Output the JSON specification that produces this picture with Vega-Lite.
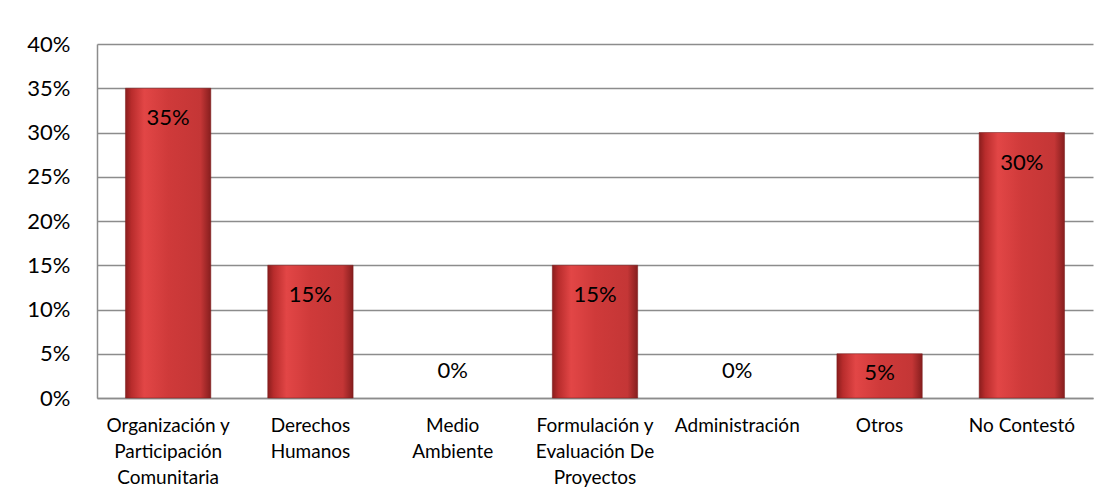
{
  "$schema": "https://vega.github.io/schema/vega-lite/v6.json",
  "width": 996,
  "height": 354,
  "autosize": {"type": "none"},
  "padding": {"left": 97, "top": 44, "right": 19, "bottom": 103},
  "background": "white",
  "config": {
    "view": {"stroke": null},
    "font": "Lato",
    "text": {"font": "Lato"}
  },
  "data": {
    "values": [
      {"categoria": "Organización y Participación Comunitaria", "valor": 0.35},
      {"categoria": "Derechos Humanos", "valor": 0.15},
      {"categoria": "Medio Ambiente", "valor": 0.0},
      {"categoria": "Formulación y Evaluación De Proyectos", "valor": 0.15},
      {"categoria": "Administración", "valor": 0.0},
      {"categoria": "Otros", "valor": 0.05},
      {"categoria": "No Contestó", "valor": 0.30}
    ]
  },
  "encoding": {
    "x": {
      "field": "categoria",
      "type": "nominal",
      "sort": null,
      "scale": {
        "domain": ["Organización y Participación Comunitaria", "Derechos Humanos", "Medio Ambiente", "Formulación y Evaluación De Proyectos", "Administración", "Otros", "No Contestó"],
        "paddingInner": 0.4,
        "paddingOuter": 0.2
      },
      "axis": {
        "title": null,
        "labelAngle": 0,
        "labelFont": "Lato",
        "labelFontSize": 19,
        "labelColor": "#000000",
        "labelLineHeight": 26,
        "labelPadding": 27,
        "labelBaseline": "middle",
        "labelLimit": 200,
        "ticks": false,
        "domainColor": "#8c8c8c",
        "domainWidth": 1.5,
        "labelExpr": "datum.value == 'Organización y Participación Comunitaria' ? ['Organización y', 'Participación', 'Comunitaria'] : datum.value == 'Derechos Humanos' ? ['Derechos', 'Humanos'] : datum.value == 'Medio Ambiente' ? ['Medio', 'Ambiente'] : datum.value == 'Formulación y Evaluación De Proyectos' ? ['Formulación y', 'Evaluación De', 'Proyectos'] : datum.value"
      }
    },
    "y": {
      "field": "valor",
      "type": "quantitative",
      "scale": {"domain": [0, 0.4], "nice": false},
      "axis": {
        "title": null,
        "format": ".0%",
        "values": [0, 0.05, 0.1, 0.15, 0.2, 0.25, 0.3, 0.35, 0.4],
        "labelFont": "Lato",
        "labelFontSize": 22,
        "labelColor": "#000000",
        "labelPadding": 27,
        "ticks": false,
        "domainColor": "#8c8c8c",
        "domainWidth": 1.5,
        "gridColor": "#8c8c8c",
        "gridWidth": 1.5
      }
    }
  },
  "layer": [
    {
      "transform": [{"filter": "datum.valor > 0"}],
      "mark": {
        "type": "bar",
        "stroke": "#7a1a1a",
        "strokeWidth": 0.5,
        "color": {
          "gradient": "linear",
          "x1": 0, "y1": 0, "x2": 1, "y2": 0,
          "stops": [
            {"offset": 0, "color": "#8a1d1d"},
            {"offset": 0.07, "color": "#b82c2c"},
            {"offset": 0.22, "color": "#e24646"},
            {"offset": 0.5, "color": "#cf3a3a"},
            {"offset": 0.88, "color": "#c43636"},
            {"offset": 1, "color": "#861e1e"}
          ]
        }
      }
    },
    {
      "transform": [{"filter": "datum.valor >= 0.1"}],
      "mark": {"type": "text", "dy": 30, "fontSize": 22, "color": "#000000", "baseline": "middle"},
      "encoding": {"text": {"field": "valor", "format": ".0%"}}
    },
    {
      "transform": [{"filter": "datum.valor > 0 && datum.valor < 0.1"}],
      "mark": {"type": "text", "dy": 19, "fontSize": 22, "color": "#000000", "baseline": "middle"},
      "encoding": {"text": {"field": "valor", "format": ".0%"}}
    },
    {
      "transform": [{"filter": "datum.valor == 0"}],
      "mark": {"type": "text", "dy": -27, "fontSize": 22, "color": "#000000", "baseline": "middle"},
      "encoding": {"text": {"field": "valor", "format": ".0%"}}
    }
  ]
}
